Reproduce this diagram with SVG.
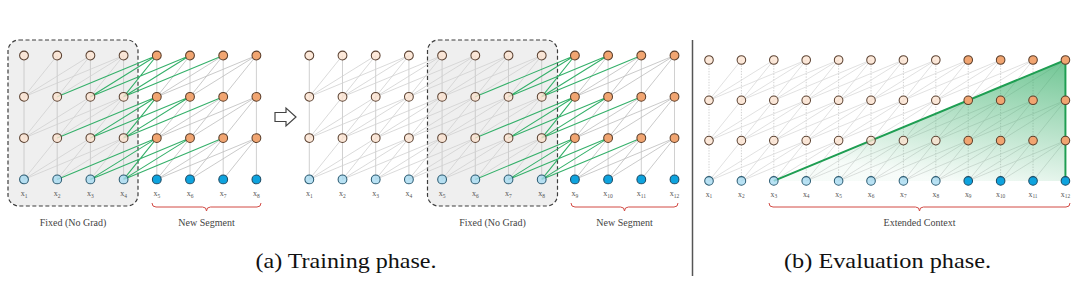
<svg xmlns="http://www.w3.org/2000/svg" width="1080" height="292" viewBox="0 0 1080 292">
<style>
.box{fill:#efefef;stroke:#3d3d3d;stroke-width:1.2;stroke-dasharray:4 2.5}
.ln{fill:none;stroke-width:.8}
.lt{stroke:#d0d0d0}
.gy{stroke:#bdbdbd}
.gr{stroke:#35b06a;stroke-width:1.1}
.vt{stroke:#c4c4c4}
.vd{stroke:#c4c4c4;stroke-dasharray:1.4 1.4}
.p3{stroke:#d8d8d8}
circle{r:4.4px;stroke-width:1.05}
.lp{fill:#fde3d1;fill-opacity:.8;stroke:#5b4232}
.op{fill:#f1a571;stroke:#5b3d29}
.lb{fill:#a7dbf1;fill-opacity:.8;stroke:#2b5b72}
.db{fill:#0ea3de;stroke:#1b4a64}
.xl{font-family:"Liberation Serif",serif;font-size:8px;fill:#555;text-anchor:middle}
.sub{font-size:5.5px}
.cap{font-family:"Liberation Serif",serif;font-size:10px;fill:#444;text-anchor:middle}
.big{font-family:"Liberation Serif",serif;font-size:21.5px;fill:#111;text-anchor:middle}
.brace{fill:none;stroke:#d24b45;stroke-width:1}
</style>
<defs>
<path id="ra" d="M33.2,0l-33.2,41.3M66.4,0l-33.2,41.3M66.4,0l-66.4,41.3M99.6,0l-33.2,41.3M99.6,0l-66.4,41.3M99.6,0l-99.6,41.3"/>
<path id="fan4" d="M132.8,0l-33.2,41.3M132.8,0l-66.4,41.3M132.8,0l-99.6,41.3M166,0l-33.2,41.3M166,0l-66.4,41.3M166,0l-99.6,41.3M199.2,0l-33.2,41.3M199.2,0l-66.4,41.3M199.2,0l-99.6,41.3M232.4,0l-33.2,41.3M232.4,0l-66.4,41.3M232.4,0l-99.6,41.3"/>
<path id="grn" d="M132.8,0l-33.2,41.3M132.8,0l-66.4,41.3M132.8,0l-99.6,41.3M166,0l-66.4,41.3M166,0l-99.6,41.3M199.2,0l-99.6,41.3"/>
<path id="gry" d="M166,0l-33.2,41.3M199.2,0l-33.2,41.3M199.2,0l-66.4,41.3M232.4,0l-33.2,41.3M232.4,0l-66.4,41.3M232.4,0l-99.6,41.3"/>
<path id="v4" d="M0,0v123.9M33.2,0v123.9M66.4,0v123.9M99.6,0v123.9"/>
<linearGradient id="tg" x1="1" y1="0" x2="0.6" y2="1">
<stop offset="0" stop-color="#33ad66" stop-opacity=".7"/>
<stop offset="1" stop-color="#33ad66" stop-opacity=".04"/>
</linearGradient>
</defs>

<rect x="8" y="40" width="130" height="166" rx="11" class="box"/>
<rect x="427.5" y="40" width="130" height="166" rx="11" class="box"/>

<g id="connectors">
<g transform="translate(24,55.5)">
<g class="ln vt"><use href="#v4"/><use href="#v4" x="132.8"/></g>
<g class="ln lt"><use href="#ra"/><use href="#ra" y="41.3"/><use href="#ra" y="82.6"/></g>
<g class="ln gy"><use href="#gry"/><use href="#gry" y="41.3"/><use href="#gry" y="82.6"/></g>
<g class="ln gr"><use href="#grn"/><use href="#grn" y="41.3"/><use href="#grn" y="82.6"/></g>
</g>
<g transform="translate(309.3,55.5)">
<g class="ln vt"><use href="#v4"/><use href="#v4" x="132.8"/><use href="#v4" x="265.6"/></g>
<g class="ln lt"><use href="#ra"/><use href="#ra" y="41.3"/><use href="#ra" y="82.6"/><use href="#fan4"/><use href="#fan4" y="41.3"/><use href="#fan4" y="82.6"/></g>
<g class="ln gy"><use href="#gry" x="132.8"/><use href="#gry" x="132.8" y="41.3"/><use href="#gry" x="132.8" y="82.6"/></g>
<g class="ln gr"><use href="#grn" x="132.8"/><use href="#grn" x="132.8" y="41.3"/><use href="#grn" x="132.8" y="82.6"/></g>
</g>
<g transform="translate(709,60) scale(0.976)">
<g class="ln vd"><use href="#v4"/><use href="#v4" x="132.8"/><use href="#v4" x="265.6"/></g>
<g class="ln p3"><use href="#ra"/><use href="#ra" y="41.3"/><use href="#ra" y="82.6"/><use href="#fan4"/><use href="#fan4" y="41.3"/><use href="#fan4" y="82.6"/><use href="#fan4" x="132.8"/><use href="#fan4" x="132.8" y="41.3"/><use href="#fan4" x="132.8" y="82.6"/></g>
</g>
</g>

<g id="context-triangle" transform="translate(709,60) scale(0.976)">
<polygon points="66.4,123.9 365.2,0 365.2,123.9" fill="url(#tg)"/>
<path d="M66.4,123.9L365.2,0V123.9" fill="none" stroke="#1e9e52" stroke-width="2"/>
</g>

<g id="panel-a1" transform="translate(24,55.5)">
<g id="a-x1-h3"><circle class="lp" cx="0" cy="0"/></g>
<g id="a-x1-h2"><circle class="lp" cx="0" cy="41.3"/></g>
<g id="a-x1-h1"><circle class="lp" cx="0" cy="82.6"/></g>
<g id="a-x1"><circle class="lb" cx="0" cy="123.9"/></g>
<g id="a-x2-h3"><circle class="lp" cx="33.2" cy="0"/></g>
<g id="a-x2-h2"><circle class="lp" cx="33.2" cy="41.3"/></g>
<g id="a-x2-h1"><circle class="lp" cx="33.2" cy="82.6"/></g>
<g id="a-x2"><circle class="lb" cx="33.2" cy="123.9"/></g>
<g id="a-x3-h3"><circle class="lp" cx="66.4" cy="0"/></g>
<g id="a-x3-h2"><circle class="lp" cx="66.4" cy="41.3"/></g>
<g id="a-x3-h1"><circle class="lp" cx="66.4" cy="82.6"/></g>
<g id="a-x3"><circle class="lb" cx="66.4" cy="123.9"/></g>
<g id="a-x4-h3"><circle class="lp" cx="99.6" cy="0"/></g>
<g id="a-x4-h2"><circle class="lp" cx="99.6" cy="41.3"/></g>
<g id="a-x4-h1"><circle class="lp" cx="99.6" cy="82.6"/></g>
<g id="a-x4"><circle class="lb" cx="99.6" cy="123.9"/></g>
<g id="a-x5-h3"><circle class="op" cx="132.8" cy="0"/></g>
<g id="a-x5-h2"><circle class="op" cx="132.8" cy="41.3"/></g>
<g id="a-x5-h1"><circle class="op" cx="132.8" cy="82.6"/></g>
<g id="a-x5"><circle class="db" cx="132.8" cy="123.9"/></g>
<g id="a-x6-h3"><circle class="op" cx="166" cy="0"/></g>
<g id="a-x6-h2"><circle class="op" cx="166" cy="41.3"/></g>
<g id="a-x6-h1"><circle class="op" cx="166" cy="82.6"/></g>
<g id="a-x6"><circle class="db" cx="166" cy="123.9"/></g>
<g id="a-x7-h3"><circle class="op" cx="199.2" cy="0"/></g>
<g id="a-x7-h2"><circle class="op" cx="199.2" cy="41.3"/></g>
<g id="a-x7-h1"><circle class="op" cx="199.2" cy="82.6"/></g>
<g id="a-x7"><circle class="db" cx="199.2" cy="123.9"/></g>
<g id="a-x8-h3"><circle class="op" cx="232.4" cy="0"/></g>
<g id="a-x8-h2"><circle class="op" cx="232.4" cy="41.3"/></g>
<g id="a-x8-h1"><circle class="op" cx="232.4" cy="82.6"/></g>
<g id="a-x8"><circle class="db" cx="232.4" cy="123.9"/></g>
<text class="xl" x="0" y="140.5">x<tspan class="sub" dy="1.5">1</tspan></text>
<text class="xl" x="33.2" y="140.5">x<tspan class="sub" dy="1.5">2</tspan></text>
<text class="xl" x="66.4" y="140.5">x<tspan class="sub" dy="1.5">3</tspan></text>
<text class="xl" x="99.6" y="140.5">x<tspan class="sub" dy="1.5">4</tspan></text>
<text class="xl" x="132.8" y="140.5">x<tspan class="sub" dy="1.5">5</tspan></text>
<text class="xl" x="166" y="140.5">x<tspan class="sub" dy="1.5">6</tspan></text>
<text class="xl" x="199.2" y="140.5">x<tspan class="sub" dy="1.5">7</tspan></text>
<text class="xl" x="232.4" y="140.5">x<tspan class="sub" dy="1.5">8</tspan></text>
</g>

<g id="panel-a2" transform="translate(309.3,55.5)">
<g id="b-x1-h3"><circle class="lp" cx="0" cy="0"/></g>
<g id="b-x1-h2"><circle class="lp" cx="0" cy="41.3"/></g>
<g id="b-x1-h1"><circle class="lp" cx="0" cy="82.6"/></g>
<g id="b-x1"><circle class="lb" cx="0" cy="123.9"/></g>
<g id="b-x2-h3"><circle class="lp" cx="33.2" cy="0"/></g>
<g id="b-x2-h2"><circle class="lp" cx="33.2" cy="41.3"/></g>
<g id="b-x2-h1"><circle class="lp" cx="33.2" cy="82.6"/></g>
<g id="b-x2"><circle class="lb" cx="33.2" cy="123.9"/></g>
<g id="b-x3-h3"><circle class="lp" cx="66.4" cy="0"/></g>
<g id="b-x3-h2"><circle class="lp" cx="66.4" cy="41.3"/></g>
<g id="b-x3-h1"><circle class="lp" cx="66.4" cy="82.6"/></g>
<g id="b-x3"><circle class="lb" cx="66.4" cy="123.9"/></g>
<g id="b-x4-h3"><circle class="lp" cx="99.6" cy="0"/></g>
<g id="b-x4-h2"><circle class="lp" cx="99.6" cy="41.3"/></g>
<g id="b-x4-h1"><circle class="lp" cx="99.6" cy="82.6"/></g>
<g id="b-x4"><circle class="lb" cx="99.6" cy="123.9"/></g>
<g id="b-x5-h3"><circle class="lp" cx="132.8" cy="0"/></g>
<g id="b-x5-h2"><circle class="lp" cx="132.8" cy="41.3"/></g>
<g id="b-x5-h1"><circle class="lp" cx="132.8" cy="82.6"/></g>
<g id="b-x5"><circle class="lb" cx="132.8" cy="123.9"/></g>
<g id="b-x6-h3"><circle class="lp" cx="166" cy="0"/></g>
<g id="b-x6-h2"><circle class="lp" cx="166" cy="41.3"/></g>
<g id="b-x6-h1"><circle class="lp" cx="166" cy="82.6"/></g>
<g id="b-x6"><circle class="lb" cx="166" cy="123.9"/></g>
<g id="b-x7-h3"><circle class="lp" cx="199.2" cy="0"/></g>
<g id="b-x7-h2"><circle class="lp" cx="199.2" cy="41.3"/></g>
<g id="b-x7-h1"><circle class="lp" cx="199.2" cy="82.6"/></g>
<g id="b-x7"><circle class="lb" cx="199.2" cy="123.9"/></g>
<g id="b-x8-h3"><circle class="lp" cx="232.4" cy="0"/></g>
<g id="b-x8-h2"><circle class="lp" cx="232.4" cy="41.3"/></g>
<g id="b-x8-h1"><circle class="lp" cx="232.4" cy="82.6"/></g>
<g id="b-x8"><circle class="lb" cx="232.4" cy="123.9"/></g>
<g id="b-x9-h3"><circle class="op" cx="265.6" cy="0"/></g>
<g id="b-x9-h2"><circle class="op" cx="265.6" cy="41.3"/></g>
<g id="b-x9-h1"><circle class="op" cx="265.6" cy="82.6"/></g>
<g id="b-x9"><circle class="db" cx="265.6" cy="123.9"/></g>
<g id="b-x10-h3"><circle class="op" cx="298.8" cy="0"/></g>
<g id="b-x10-h2"><circle class="op" cx="298.8" cy="41.3"/></g>
<g id="b-x10-h1"><circle class="op" cx="298.8" cy="82.6"/></g>
<g id="b-x10"><circle class="db" cx="298.8" cy="123.9"/></g>
<g id="b-x11-h3"><circle class="op" cx="332" cy="0"/></g>
<g id="b-x11-h2"><circle class="op" cx="332" cy="41.3"/></g>
<g id="b-x11-h1"><circle class="op" cx="332" cy="82.6"/></g>
<g id="b-x11"><circle class="db" cx="332" cy="123.9"/></g>
<g id="b-x12-h3"><circle class="op" cx="365.2" cy="0"/></g>
<g id="b-x12-h2"><circle class="op" cx="365.2" cy="41.3"/></g>
<g id="b-x12-h1"><circle class="op" cx="365.2" cy="82.6"/></g>
<g id="b-x12"><circle class="db" cx="365.2" cy="123.9"/></g>
<text class="xl" x="0" y="140.5">x<tspan class="sub" dy="1.5">1</tspan></text>
<text class="xl" x="33.2" y="140.5">x<tspan class="sub" dy="1.5">2</tspan></text>
<text class="xl" x="66.4" y="140.5">x<tspan class="sub" dy="1.5">3</tspan></text>
<text class="xl" x="99.6" y="140.5">x<tspan class="sub" dy="1.5">4</tspan></text>
<text class="xl" x="132.8" y="140.5">x<tspan class="sub" dy="1.5">5</tspan></text>
<text class="xl" x="166" y="140.5">x<tspan class="sub" dy="1.5">6</tspan></text>
<text class="xl" x="199.2" y="140.5">x<tspan class="sub" dy="1.5">7</tspan></text>
<text class="xl" x="232.4" y="140.5">x<tspan class="sub" dy="1.5">8</tspan></text>
<text class="xl" x="265.6" y="140.5">x<tspan class="sub" dy="1.5">9</tspan></text>
<text class="xl" x="298.8" y="140.5">x<tspan class="sub" dy="1.5">10</tspan></text>
<text class="xl" x="332" y="140.5">x<tspan class="sub" dy="1.5">11</tspan></text>
<text class="xl" x="365.2" y="140.5">x<tspan class="sub" dy="1.5">12</tspan></text>
</g>

<g id="panel-b" transform="translate(709,60) scale(0.976)">
<g id="c-x1-h3"><circle class="lp" cx="0" cy="0"/></g>
<g id="c-x1-h2"><circle class="lp" cx="0" cy="41.3"/></g>
<g id="c-x1-h1"><circle class="lp" cx="0" cy="82.6"/></g>
<g id="c-x1"><circle class="lb" cx="0" cy="123.9"/></g>
<g id="c-x2-h3"><circle class="lp" cx="33.2" cy="0"/></g>
<g id="c-x2-h2"><circle class="lp" cx="33.2" cy="41.3"/></g>
<g id="c-x2-h1"><circle class="lp" cx="33.2" cy="82.6"/></g>
<g id="c-x2"><circle class="lb" cx="33.2" cy="123.9"/></g>
<g id="c-x3-h3"><circle class="lp" cx="66.4" cy="0"/></g>
<g id="c-x3-h2"><circle class="lp" cx="66.4" cy="41.3"/></g>
<g id="c-x3-h1"><circle class="lp" cx="66.4" cy="82.6"/></g>
<g id="c-x3"><circle class="lb" cx="66.4" cy="123.9"/></g>
<g id="c-x4-h3"><circle class="lp" cx="99.6" cy="0"/></g>
<g id="c-x4-h2"><circle class="lp" cx="99.6" cy="41.3"/></g>
<g id="c-x4-h1"><circle class="lp" cx="99.6" cy="82.6"/></g>
<g id="c-x4"><circle class="lb" cx="99.6" cy="123.9"/></g>
<g id="c-x5-h3"><circle class="lp" cx="132.8" cy="0"/></g>
<g id="c-x5-h2"><circle class="lp" cx="132.8" cy="41.3"/></g>
<g id="c-x5-h1"><circle class="lp" cx="132.8" cy="82.6"/></g>
<g id="c-x5"><circle class="lb" cx="132.8" cy="123.9"/></g>
<g id="c-x6-h3"><circle class="lp" cx="166" cy="0"/></g>
<g id="c-x6-h2"><circle class="lp" cx="166" cy="41.3"/></g>
<g id="c-x6-h1"><circle class="lp" cx="166" cy="82.6"/></g>
<g id="c-x6"><circle class="lb" cx="166" cy="123.9"/></g>
<g id="c-x7-h3"><circle class="lp" cx="199.2" cy="0"/></g>
<g id="c-x7-h2"><circle class="lp" cx="199.2" cy="41.3"/></g>
<g id="c-x7-h1"><circle class="lp" cx="199.2" cy="82.6"/></g>
<g id="c-x7"><circle class="lb" cx="199.2" cy="123.9"/></g>
<g id="c-x8-h3"><circle class="lp" cx="232.4" cy="0"/></g>
<g id="c-x8-h2"><circle class="lp" cx="232.4" cy="41.3"/></g>
<g id="c-x8-h1"><circle class="lp" cx="232.4" cy="82.6"/></g>
<g id="c-x8"><circle class="lb" cx="232.4" cy="123.9"/></g>
<g id="c-x9-h3"><circle class="op" cx="265.6" cy="0"/></g>
<g id="c-x9-h2"><circle class="op" cx="265.6" cy="41.3"/></g>
<g id="c-x9-h1"><circle class="op" cx="265.6" cy="82.6"/></g>
<g id="c-x9"><circle class="db" cx="265.6" cy="123.9"/></g>
<g id="c-x10-h3"><circle class="op" cx="298.8" cy="0"/></g>
<g id="c-x10-h2"><circle class="op" cx="298.8" cy="41.3"/></g>
<g id="c-x10-h1"><circle class="op" cx="298.8" cy="82.6"/></g>
<g id="c-x10"><circle class="db" cx="298.8" cy="123.9"/></g>
<g id="c-x11-h3"><circle class="op" cx="332" cy="0"/></g>
<g id="c-x11-h2"><circle class="op" cx="332" cy="41.3"/></g>
<g id="c-x11-h1"><circle class="op" cx="332" cy="82.6"/></g>
<g id="c-x11"><circle class="db" cx="332" cy="123.9"/></g>
<g id="c-x12-h3"><circle class="op" cx="365.2" cy="0"/></g>
<g id="c-x12-h2"><circle class="op" cx="365.2" cy="41.3"/></g>
<g id="c-x12-h1"><circle class="op" cx="365.2" cy="82.6"/></g>
<g id="c-x12"><circle class="db" cx="365.2" cy="123.9"/></g>
<text class="xl" x="0" y="140">x<tspan class="sub" dy="1.5">1</tspan></text>
<text class="xl" x="33.2" y="140">x<tspan class="sub" dy="1.5">2</tspan></text>
<text class="xl" x="66.4" y="140">x<tspan class="sub" dy="1.5">3</tspan></text>
<text class="xl" x="99.6" y="140">x<tspan class="sub" dy="1.5">4</tspan></text>
<text class="xl" x="132.8" y="140">x<tspan class="sub" dy="1.5">5</tspan></text>
<text class="xl" x="166" y="140">x<tspan class="sub" dy="1.5">6</tspan></text>
<text class="xl" x="199.2" y="140">x<tspan class="sub" dy="1.5">7</tspan></text>
<text class="xl" x="232.4" y="140">x<tspan class="sub" dy="1.5">8</tspan></text>
<text class="xl" x="265.6" y="140">x<tspan class="sub" dy="1.5">9</tspan></text>
<text class="xl" x="298.8" y="140">x<tspan class="sub" dy="1.5">10</tspan></text>
<text class="xl" x="332" y="140">x<tspan class="sub" dy="1.5">11</tspan></text>
<text class="xl" x="365.2" y="140">x<tspan class="sub" dy="1.5">12</tspan></text>
</g>

<g id="braces">
<path class="brace" d="M152,203Q152,207 156,207L202.5,207Q206.5,207 206.5,211Q206.5,207 210.5,207L257,207Q261,207 261,203"/>
<path class="brace" d="M571,203Q571,207 575,207L620.5,207Q624.5,207 624.5,211Q624.5,207 628.5,207L674,207Q678,207 678,203"/>
<path class="brace" d="M769,203Q769,207 773,207L915.5,207Q919.5,207 919.5,211Q919.5,207 923.5,207L1066,207Q1070,207 1070,203"/>
</g>
<text class="cap" x="73" y="225.5">Fixed (No Grad)</text>
<text class="cap" x="206.5" y="225.5">New Segment</text>
<text class="cap" x="492.5" y="225.5">Fixed (No Grad)</text>
<text class="cap" x="624.5" y="225.5">New Segment</text>
<text class="cap" x="919.5" y="225.5">Extended Context</text>

<g id="arrow"><polygon points="275,112.5 286,112.5 286,108 296,117 286,126 286,121.5 275,121.5" fill="#fff" stroke="#444" stroke-width="1.2" stroke-linejoin="miter"/></g>
<line x1="692.5" y1="40" x2="692.5" y2="276" stroke="#555" stroke-width="1.5"/>

<text class="big" x="346" y="267.5" textLength="181" lengthAdjust="spacingAndGlyphs">(a) Training phase.</text>
<text class="big" x="887.5" y="267.5" textLength="207" lengthAdjust="spacingAndGlyphs">(b) Evaluation phase.</text>
</svg>
